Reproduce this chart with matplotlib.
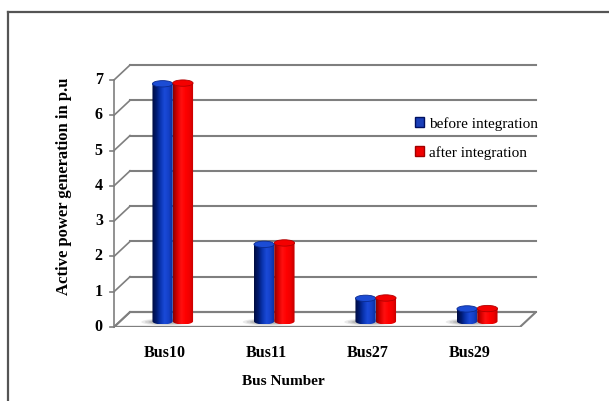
import numpy as np
import matplotlib.pyplot as plt
from matplotlib.patches import Polygon, Ellipse, Patch
from matplotlib.lines import Line2D
from matplotlib.colors import LinearSegmentedColormap

plt.rcParams['font.family'] = ['Liberation Serif', 'DejaVu Serif']

buses = ['Bus10', 'Bus11', 'Bus27', 'Bus29']
before = [6.68, 2.13, 0.60, 0.30]
after = [6.70, 2.17, 0.61, 0.31]
yticks = [0, 1, 2, 3, 4, 5, 6, 7]

# depth of the fake 3d box (in data units)
dx, dy = 0.158, 0.425
bw = 0.2          # width of one cylinder
eh = 0.18         # height of the elliptical caps
grid_col = '#7f7f7f'

blue_cmap = LinearSegmentedColormap.from_list(
    'b', ['#000c40', '#001a70', '#0a34b0', '#1a4ad8', '#1440c8', '#0a2e98'])
red_cmap = LinearSegmentedColormap.from_list(
    'r', ['#8a0000', '#d80000', '#ff1010', '#ff0000', '#f00000', '#c00000'])

fig = plt.figure(figsize=(6.09, 4.01), dpi=100)
ax = fig.add_axes([114 / 609, 74 / 401, 422 / 609, 262 / 401])
ax.set_xlim(-0.5, 3.5 + dx)
ax.set_ylim(0, 7 + dy)
ax.axis('off')

# outer frame
fig.add_artist(Line2D([8 / 609, 1], [1 - 12 / 401] * 2, transform=fig.transFigure,
                      color='#555555', lw=1.6))
fig.add_artist(Line2D([8 / 609] * 2, [0, 1 - 12 / 401], transform=fig.transFigure,
                      color='#555555', lw=1.6))

# floor
floor = Polygon([(-0.5, 0), (3.5, 0), (3.5 + dx, dy), (-0.5 + dx, dy)],
                closed=True, facecolor='white', edgecolor=grid_col, lw=1.5, zorder=1)
ax.add_patch(floor)

# back wall grid lines and the diagonal links to the front axis
for t in yticks:
    ax.plot([-0.5 + dx, 3.5 + dx], [t + dy, t + dy], color=grid_col, lw=1.5, zorder=1,
            clip_on=False)
    ax.plot([-0.5, -0.5 + dx], [t, t + dy], color=grid_col, lw=1.2, zorder=1, clip_on=False)
    ax.plot([-0.5 - 0.04, -0.5], [t, t], color=grid_col, lw=1.2, clip_on=False)
    ax.text(-0.5 - 0.11, t, str(t), ha='right', va='center', fontsize=11.5,
            fontweight='bold', clip_on=False)
ax.plot([-0.5, -0.5], [0, 7], color=grid_col, lw=1.2, clip_on=False)
ax.plot([-0.5, 3.5], [0, 0], color=grid_col, lw=1.6, zorder=2)

grad = np.linspace(0, 1, 64).reshape(1, -1)


def cylinder(xc, val, cmap, top_col, edge_col):
    base = dy / 2 - 0.05
    top = val + dy / 2
    x0, x1 = xc - bw / 2, xc + bw / 2
    th = np.linspace(np.pi, 2 * np.pi, 40)
    bottom = np.column_stack([xc + bw / 2 * np.cos(th), base + eh / 2 * np.sin(th)])
    verts = np.vstack([bottom, [[x1, top], [x0, top], [x0, base]]])
    clip = Polygon(verts, closed=True, facecolor='none', edgecolor='none')
    ax.add_patch(clip)
    im = ax.imshow(grad, cmap=cmap, extent=[x0, x1, base - eh / 2, top], aspect='auto',
                   zorder=4)
    im.set_clip_path(clip)
    ax.add_patch(Ellipse((xc, top), bw, eh, facecolor=top_col, edgecolor=edge_col,
                         lw=0.6, zorder=5))


xs = np.arange(len(buses))
for i in xs:
    gx = i + dx / 2
    # soft shadow on the floor, mostly to the left of the pair
    for k, a in enumerate([0.12, 0.15, 0.2]):
        ax.add_patch(Ellipse((gx - 0.06, dy / 2 - 0.07), 0.5 - 0.07 * k, 0.2 - 0.04 * k,
                             facecolor='#555555', edgecolor='none', alpha=a, zorder=3))
    cylinder(gx - bw / 2, before[i], blue_cmap, '#1c4cd4', '#0a2a90')
    cylinder(gx + bw / 2, after[i], red_cmap, '#f40000', '#b00000')

for i, b in enumerate(buses):
    ax.text(i, -0.75, b, ha='center', va='center', fontsize=11.5, fontweight='bold')
ax.text(1.17, -1.55, 'Bus Number', ha='center', va='center', fontsize=11,
        fontweight='bold')
fig.text(64 / 609, 1 - 186 / 401, 'Active power generation in p.u', rotation=90,
         ha='center', va='center', fontsize=12, fontweight='bold')

handles = [Patch(facecolor='#1a3fb8', edgecolor='#001060'),
           Patch(facecolor='#f00000', edgecolor='#a00000')]
leg = fig.legend(handles, ['before integration', 'after integration'],
                 loc='upper left', bbox_to_anchor=(401 / 609, 1 - 103 / 401),
                 frameon=False, fontsize=11, handlelength=0.6, handleheight=0.6,
                 handletextpad=0.35, labelspacing=1.0)

fig.savefig('out.png', dpi=100, facecolor='white')
